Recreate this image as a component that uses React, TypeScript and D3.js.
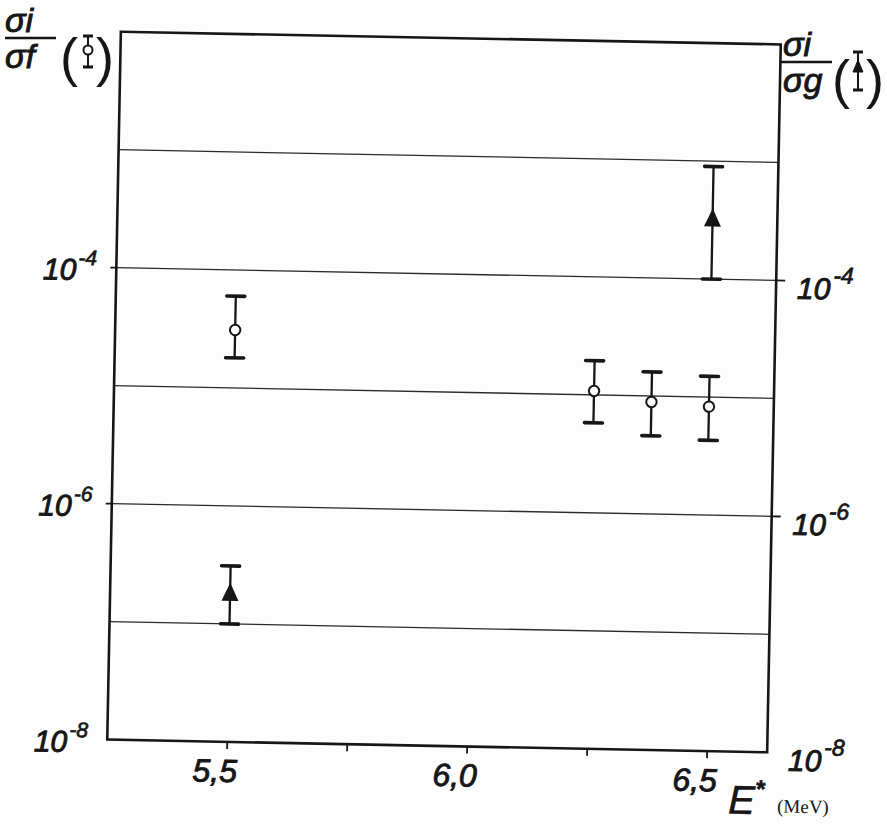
import React from 'react';
import * as d3 from 'd3';

// excitation energy ticks (MeV)
const energyTicks = [5.5, 6.0, 6.5];
const energyTickLabels = ['5,5', '6,0', '6,5'];
const energyMinorTicks = [5.75, 6.25];

// log axis
const gridDecades = [1e-3, 1e-4, 1e-5, 1e-6, 1e-7];
const labelledDecades = [1e-4, 1e-6, 1e-8];
const labelExponents = ['-4', '-6', '-8'];

// sigma_i / sigma_f  (open circles, left axis)
const fissionE = [5.5, 6.25, 6.37, 6.49];
const fissionRatio = [3.1e-5, 1.08e-5, 8.9e-6, 8.3e-6];
const fissionLow = [1.8e-5, 5.8e-6, 4.6e-6, 4.3e-6];
const fissionHigh = [6.0e-5, 1.95e-5, 1.6e-5, 1.5e-5];

// sigma_i / sigma_g  (filled triangles, right axis)
const gammaE = [5.5, 6.49];
const gammaRatio = [1.8e-7, 3.2e-4];
const gammaLow = [1.0e-7, 1.0e-4];
const gammaHigh = [3.1e-7, 9.0e-4];

const W = 887;
const H = 826;
const L = 114;
const R = 774;
const T = 38;
const B = 746;
const INK = '#161616';
const PAPER = '#fdfdfd';
const HAND = "'Liberation Sans Narrow', 'Liberation Sans', 'DejaVu Sans', sans-serif";

const x = d3.scaleLinear().domain([5.25, 6.625]).range([L, R]);
const y = d3.scaleLog().domain([1e-8, 1e-2]).range([B, T]);

const ErrorBar = ({ cx, lo, hi }: { cx: number; lo: number; hi: number }) => (
  <g stroke={INK}>
    <line x1={cx} x2={cx} y1={y(hi)} y2={y(lo)} strokeWidth={2.3} />
    <line x1={cx - 9} x2={cx + 9} y1={y(hi)} y2={y(hi)} strokeWidth={3.6} strokeLinecap="round" />
    <line x1={cx - 9} x2={cx + 9} y1={y(lo)} y2={y(lo)} strokeWidth={3.6} strokeLinecap="round" />
  </g>
);

const triPath = 'M0,-11L8.5,7L-8.5,7Z';

// handwritten-looking text: italic with a little extra ink
const ink = { fill: INK, stroke: INK, strokeWidth: 0.9, fontStyle: 'italic' as const };

export default function App() {
  return (
    <svg
      width={W}
      height={H}
      style={{ position: 'absolute', left: 0, top: 0, background: PAPER }}
      fontFamily={HAND}
    >
      <g transform="rotate(1.1, 444, 392)">
        {/* grid lines */}
        {gridDecades.map((d) => (
          <line key={d} x1={L} x2={R} y1={y(d)} y2={y(d)} stroke="#2a2a2a" strokeWidth={1.3} />
        ))}
        {/* frame */}
        <rect x={L} y={T} width={R - L} height={B - T} fill="none" stroke={INK} strokeWidth={2.6} />

        {/* x ticks */}
        {[...energyTicks, ...energyMinorTicks].map((e) => (
          <line key={e} x1={x(e)} x2={x(e)} y1={B} y2={B + 7} stroke={INK} strokeWidth={1.8} />
        ))}
        {energyTicks.map((e, i) => (
          <text key={e} x={x(e) - 12} y={B + 40} textAnchor="middle" fontSize={32} {...ink}>
            {energyTickLabels[i]}
          </text>
        ))}
        <text x={x(6.5) + 22} y={B + 62} fontSize={40} {...ink} strokeWidth={0.6}>
          E
          <tspan dy={-17} dx={1} fontSize={24} fontStyle="normal" fontWeight="bold">*</tspan>
        </text>
        <text
          x={x(6.5) + 71}
          y={B + 60}
          fontSize={19}
          fontFamily="'Liberation Serif', 'DejaVu Serif', serif"
          fill={INK}
        >
          (MeV)
        </text>

        {/* y ticks + labels */}
        {labelledDecades.map((d, i) => (
          <g key={d}>
            {d > 1e-8 && (
              <>
                <line x1={L - 6} x2={L} y1={y(d)} y2={y(d)} stroke={INK} strokeWidth={1.8} />
                <line x1={R} x2={R + 9} y1={y(d)} y2={y(d)} stroke={INK} strokeWidth={1.8} />
              </>
            )}
            <text x={L - 40} y={y(d) + 13} textAnchor="end" fontSize={30} {...ink}>
              10
            </text>
            <text x={L - 38} y={y(d) - 2} fontSize={21} {...ink} strokeWidth={0.7}>
              {labelExponents[i]}
            </text>
            <text x={R + 21} y={y(d) + 18} fontSize={30} {...ink}>
              10
            </text>
            <text x={R + 57} y={y(d) + 2} fontSize={23} {...ink} strokeWidth={0.7}>
              {labelExponents[i]}
            </text>
          </g>
        ))}

        {/* sigma_i / sigma_f */}
        {fissionE.map((e, i) => (
          <g key={'f' + i}>
            <ErrorBar cx={x(e)} lo={fissionLow[i]} hi={fissionHigh[i]} />
            <circle cx={x(e)} cy={y(fissionRatio[i])} r={5.2} fill={PAPER} stroke={INK} strokeWidth={2} />
          </g>
        ))}

        {/* sigma_i / sigma_g */}
        {gammaE.map((e, i) => (
          <g key={'g' + i}>
            <ErrorBar cx={x(e)} lo={gammaLow[i]} hi={gammaHigh[i]} />
            <path d={triPath} transform={`translate(${x(e)},${y(gammaRatio[i])})`} fill={INK} />
          </g>
        ))}
      </g>

      {/* left title: sigma_i / sigma_f (circle) */}
      <g>
        <text x={5} y={32} fontSize={34} {...ink}>σi</text>
        <line x1={5} x2={56} y1={38} y2={38} stroke={INK} strokeWidth={2.6} />
        <text x={5} y={68} fontSize={34} {...ink}>σf</text>
        <text x={60} y={76} fontSize={54} fill={INK} fontFamily="'Liberation Sans', sans-serif">(</text>
        <text x={96} y={76} fontSize={54} fill={INK} fontFamily="'Liberation Sans', sans-serif">)</text>
      </g>
      <g stroke={INK}>
        <line x1={88} x2={88} y1={36} y2={67} strokeWidth={2} />
        <line x1={83} x2={93} y1={36} y2={36} strokeWidth={3} />
        <line x1={83} x2={93} y1={67} y2={67} strokeWidth={3} />
        <circle cx={88} cy={50} r={4.5} fill={PAPER} strokeWidth={2} />
      </g>

      {/* right title: sigma_i / sigma_g (triangle) */}
      <g>
        <text x={783} y={56} fontSize={34} {...ink}>σi</text>
        <line x1={781} x2={832} y1={62} y2={62} stroke={INK} strokeWidth={2.6} />
        <text x={783} y={92} fontSize={34} {...ink}>σg</text>
        <text x={832} y={98} fontSize={54} fill={INK} fontFamily="'Liberation Sans', sans-serif">(</text>
        <text x={866} y={98} fontSize={54} fill={INK} fontFamily="'Liberation Sans', sans-serif">)</text>
      </g>
      <g stroke={INK}>
        <line x1={858} x2={858} y1={52} y2={90} strokeWidth={2} />
        <line x1={853} x2={863} y1={52} y2={52} strokeWidth={3} />
        <line x1={853} x2={863} y1={90} y2={90} strokeWidth={3} />
        <path d="M858,60L863,72L853,72Z" fill={INK} strokeWidth={1} />
      </g>
    </svg>
  );
}
